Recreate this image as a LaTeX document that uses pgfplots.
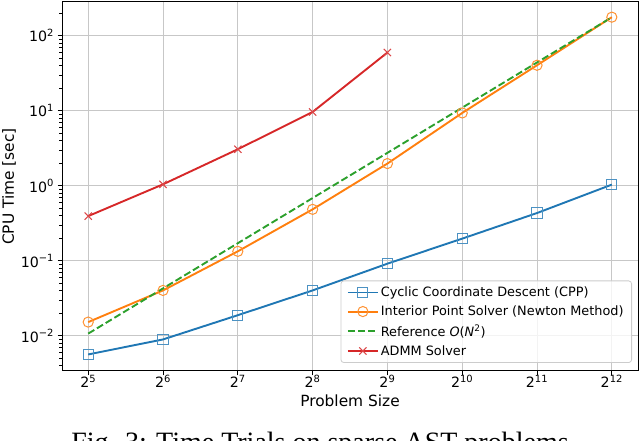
\documentclass[border=0pt]{standalone}
\usepackage{fontspec}
\setmainfont{DejaVu Sans}
\newfontfamily\capfont{Liberation Serif}
\usepackage{pgfplots}
\pgfplotsset{compat=1.18}
\definecolor{tabblue}{HTML}{1F77B4}
\definecolor{taborange}{HTML}{FF7F0E}
\definecolor{tabgreen}{HTML}{2CA02C}
\definecolor{tabred}{HTML}{D62728}
\begin{document}
\begin{tikzpicture}[x=1pt,y=1pt]
\begin{axis}[
  at={(62pt,70pt)}, anchor=south west,
  width=576pt, height=369pt, scale only axis,
  xmode=log, ymode=log, log basis x=2, log basis y=10,
  xmin=25.1, xmax=5220.7,
  ymin=0.003412, ymax=281.2,
  xtick={32,64,128,256,512,1024,2048,4096},
  xticklabels={2\textsuperscript{5},2\textsuperscript{6},2\textsuperscript{7},2\textsuperscript{8},2\textsuperscript{9},2\textsuperscript{10},2\textsuperscript{11},2\textsuperscript{12}},
  ytick={0.01,0.1,1,10,100},
  yticklabels={10\textsuperscript{−2},10\textsuperscript{−1},10\textsuperscript{0},10\textsuperscript{1},10\textsuperscript{2}},
  minor xtick={},
  minor ytick={0.004,0.005,0.006,0.007,0.008,0.009,0.02,0.03,0.04,0.05,0.06,0.07,0.08,0.09,0.2,0.3,0.4,0.5,0.6,0.7,0.8,0.9,2,3,4,5,6,7,8,9,20,30,40,50,60,70,80,90,200},
  xtick pos=bottom, ytick pos=left,
  tick align=outside,
  major tick length=4.5pt, minor tick length=2.6pt,
  tick style={black, line width=1pt},
  minor tick style={black, line width=0.8pt},
  axis line style={black, line width=1pt},
  grid=major,
  major grid style={black!22, line width=1pt},
  ticklabel style={font=\fontsize{14.2}{17}\selectfont},
  xticklabel style={anchor=base, yshift=-12pt},
  xlabel={Problem Size},
  ylabel={CPU Time [sec]},
  label style={font=\fontsize{15.4}{18}\selectfont},
  xlabel style={at={(axis description cs:0.5,0)}, anchor=base, yshift=-35pt},
  ylabel style={at={(axis description cs:0,0.5)}, anchor=center, yshift=53pt},
  legend cell align=left,
  legend style={at={(0.9896,0.0217)}, anchor=south east,
    font=\fontsize{12.85}{15}\selectfont,
    draw=black!20, line width=0.8pt, rounded corners=3pt,
    fill=white, fill opacity=0.8, text opacity=1,
    inner xsep=6pt, inner ysep=4pt, row sep=3.8pt},
  legend image code/.code={\draw[mark repeat=2,mark phase=2,#1] plot coordinates {(0pt,0pt) (15pt,0pt) (30pt,0pt)};},
]
\addplot[tabblue, line width=1.9pt, mark=square, mark size=5.1pt, mark options={line width=1pt, solid, fill=none, draw=tabblue!80}]
  coordinates {(32,0.00567) (64,0.00898) (128,0.0189) (256,0.0404) (512,0.0918) (1024,0.198) (2048,0.434) (4096,1.038)};
\addlegendentry{Cyclic Coordinate Descent (CPP)}
\addplot[taborange, line width=1.9pt, mark=o, mark size=5.1pt, mark options={line width=1pt, solid, fill=none, draw=taborange!85}]
  coordinates {(32,0.0153) (64,0.0404) (128,0.134) (256,0.486) (512,1.98) (1024,9.35) (2048,40.4) (4096,176.6)};
\addlegendentry{Interior Point Solver (Newton Method)}
\addplot[tabgreen, line width=1.9pt, dash pattern=on 7.1pt off 3.1pt]
  coordinates {(32,0.01074) (64,0.04297) (128,0.1719) (256,0.6875) (512,2.75) (1024,11.0) (2048,44.0) (4096,176.0)};
\addlegendentry{Reference \textit{O}(\textit{N}\textsuperscript{2})}
\addplot[tabred, line width=1.9pt, mark=x, mark size=5.1pt, mark options={line width=1pt, solid, draw=tabred!85}]
  coordinates {(32,0.395) (64,1.047) (128,3.07) (256,9.64) (512,59.7)};
\addlegendentry{ADMM Solver}
\end{axis}
\node[anchor=base, font=\capfont\fontsize{28}{33}\selectfont] at (320,-11) {Fig. 3: Time Trials on sparse AST problems};
\pgfresetboundingbox
\useasboundingbox (0,0) rectangle (640,441);
\end{tikzpicture}
\end{document}
